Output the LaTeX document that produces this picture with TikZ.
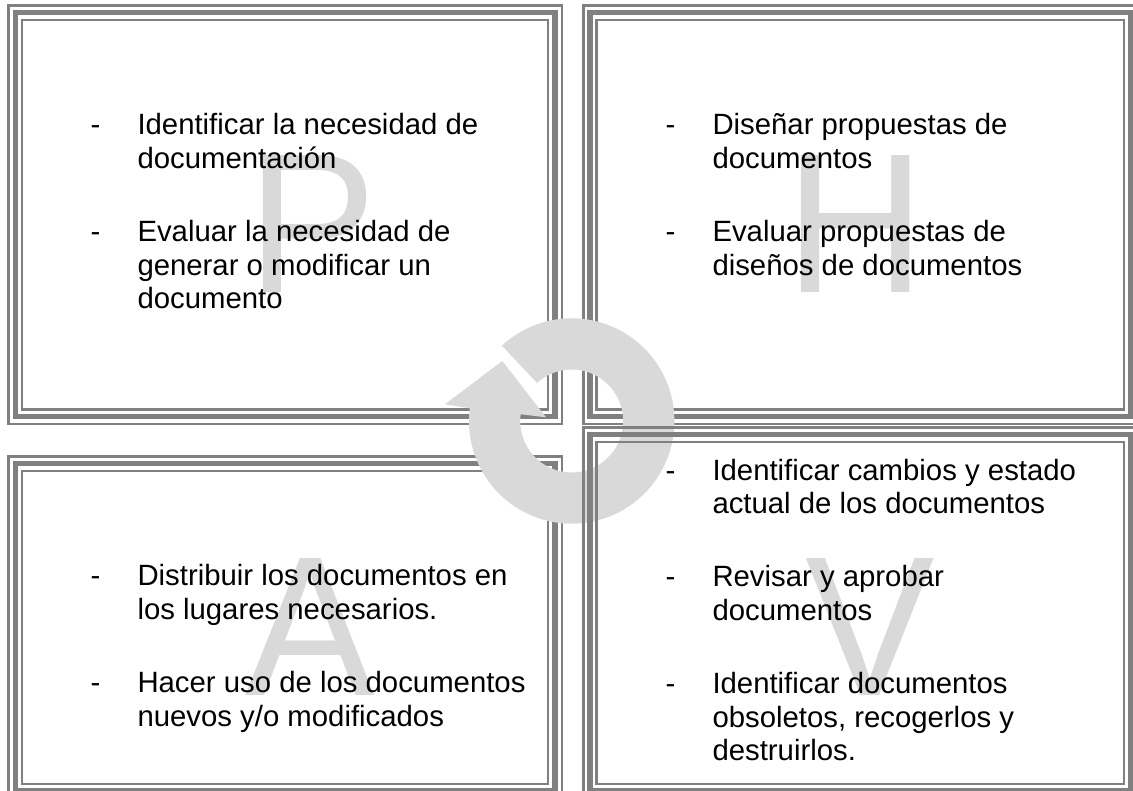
\documentclass[tikz,border=0pt]{standalone}
\usepackage{graphicx}
\usepackage{fontspec}
\setmainfont{Liberation Sans}
\definecolor{framegray}{HTML}{808080}
\definecolor{wm}{HTML}{D9D9D9}
\tikzset{
  framethin/.style={draw=framegray,line width=2.8pt,fill=none},
  framethick/.style={draw=framegray,line width=5.5pt,fill=none},
  txt/.style={anchor=base west,inner sep=0pt,outer sep=0pt,text=black,font=\fontsize{29.33}{33.7}\selectfont},
  bigletter/.style={anchor=base west,inner sep=0pt,outer sep=0pt,text=wm,font=\fontsize{194}{200}\selectfont},
}
\newcommand{\tripleframe}[4]{% dark centre box; thin boxes around and inside it
  \draw[framethin] (#1-6.8,#2-7) rectangle (#3+7,#4+7.5);
  \draw[framethick] (#1,#2) rectangle (#3,#4);
  \draw[framethin] (#1+6.7,#2+7.5) rectangle (#3-7,#4-7);
}
\newcommand{\tallglyph}[1]{\scalebox{1}[1.026]{#1}}
\begin{document}
\begin{tikzpicture}[x=1pt,y=-1pt]
\useasboundingbox (0,0) rectangle (1133,791);
\clip (0,0) rectangle (1133,791);
\fill[white] (0,0) rectangle (1133,791);
% letters
\node[bigletter] (letterP) at (247,293) {\tallglyph{P}};
\node[bigletter] (letterH) at (785,293) {\tallglyph{H}};
\node[bigletter] (letterA) at (245.8,695.5) {\tallglyph{A}};
\node[bigletter] (letterV) at (805.3,695.5) {\tallglyph{V}};
% frames under the arrow
\tripleframe{15.3}{12.5}{555}{416.5}
\tripleframe{590}{12.5}{1131}{416.5}
\tripleframe{15.3}{463.5}{555}{791}
% circular arrow
\fill[wm] plot[domain=227.2:547.1,samples=120] ({571.7+102.7*cos(\x)},{421+102.7*sin(\x)})
  -- (445,404.3) -- (502.3,361) -- (546,417.3)
  -- plot[domain=547.5:227.6,samples=80] ({571.7+51.5*cos(\x)},{421+51.5*sin(\x)}) -- cycle;
% frame over the arrow
\tripleframe{590}{434.5}{1131}{791}
% P
\node[txt] (p0) at (90.5,135) {-};
\node[txt] (p1) at (137.5,135) {Identificar la necesidad de};
\node[txt] (p2) at (137.5,168.5) {documentación};
\node[txt] (p3) at (90.5,241.7) {-};
\node[txt] (p4) at (137.5,241.7) {Evaluar la necesidad de};
\node[txt] (p5) at (137.5,275.4) {generar o modificar un};
\node[txt] (p6) at (137.5,309) {documento};
% H
\node[txt] (h0) at (665.5,135) {-};
\node[txt] (h1) at (712.5,135) {Diseñar propuestas de};
\node[txt] (h2) at (712.5,168.5) {documentos};
\node[txt] (h3) at (665.5,241.7) {-};
\node[txt] (h4) at (712.5,241.7) {Evaluar propuestas de};
\node[txt] (h5) at (712.5,275.4) {diseños de documentos};
% A
\node[txt] (a0) at (90.5,585.7) {-};
\node[txt] (a1) at (137.5,585.7) {Distribuir los documentos en};
\node[txt] (a2) at (137.5,619.6) {los lugares necesarios.};
\node[txt] (a3) at (90.5,692.8) {-};
\node[txt] (a4) at (137.5,692.8) {Hacer uso de los documentos};
\node[txt] (a5) at (137.5,726.6) {nuevos y/o modificados};
% V
\node[txt] (v0) at (665.5,480) {-};
\node[txt] (v1) at (712.5,480) {Identificar cambios y estado};
\node[txt] (v2) at (712.5,513.5) {actual de los documentos};
\node[txt] (v3) at (665.5,586.7) {-};
\node[txt] (v4) at (712.5,586.7) {Revisar y aprobar};
\node[txt] (v5) at (712.5,620.3) {documentos};
\node[txt] (v6) at (665.5,693.3) {-};
\node[txt] (v7) at (712.5,693.3) {Identificar documentos};
\node[txt] (v8) at (712.5,727) {obsoletos, recogerlos y};
\node[txt] (v9) at (712.5,760.5) {destruirlos.};
\end{tikzpicture}
\end{document}
